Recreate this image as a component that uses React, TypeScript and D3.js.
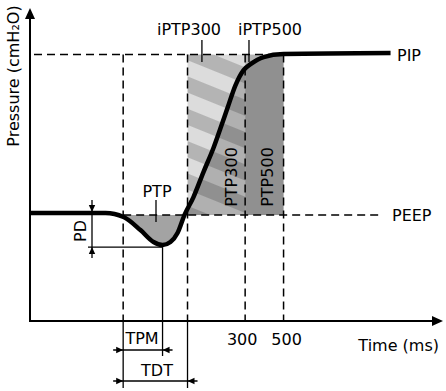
import React, { useEffect, useRef } from "react";
import * as d3 from "d3";

const W = 446;
const H = 391;

// pressure trace (ms, cmH2O)
const timeMs = [-818, -427, -333, -245, -177, -130, -89, -52, -16, 31, 83, 135, 172, 208, 250, 292, 328, 396, 500, 1057];
const pressure = [5.25, 5.25, 4.75, 3.13, 1.64, 1.26, 1.64, 2.76, 5.0, 7.24, 10.36, 13.35, 15.84, 18.33, 21.2, 23.07, 23.8, 24.69, 25.06, 25.19];

const PEEP = 5;
const PIP = 25;
const tOnset = -335;
const tMinimum = -130;
const tTrigger = 0;
const timeTicks = [300, 500];
const iptpTimes = [75, 320];
const iptpLabels = ["iPTP300", "iPTP500"];
const ptpLabels = ["PTP300", "PTP500"];

export default function App() {
  const ref = useRef<SVGSVGElement>(null);

  useEffect(() => {
    const svg = d3.select(ref.current);
    svg.selectAll("*").remove();

    const x = d3.scaleLinear().domain([-820, 1330]).range([30, 443]);
    const y = d3.scaleLinear().domain([-8.2, 30.8]).range([321, 8]);
    const data = timeMs.map((t, i) => ({ t, p: pressure[i] }));
    const font = "'DejaVu Sans', Verdana, sans-serif";
    const x0 = x.range()[0], x1 = x.range()[1];
    const yb = y.range()[0], yt = y.range()[1];

    const defs = svg.append("defs");
    const pat = defs.append("pattern").attr("id", "stripes")
      .attr("patternUnits", "userSpaceOnUse")
      .attr("width", 30).attr("height", 30)
      .attr("patternTransform", "translate(187,60) rotate(22)");
    pat.append("rect").attr("width", 30).attr("height", 30).attr("fill", "#dcdcdc");
    pat.append("rect").attr("y", 15).attr("width", 30).attr("height", 15).attr("fill", "#b4b4b4");

    defs.append("clipPath").attr("id", "clipPtp").append("rect")
      .attr("x", x(tOnset)).attr("y", y(PEEP))
      .attr("width", x(tTrigger) - x(tOnset)).attr("height", yb - y(PEEP));
    defs.append("clipPath").attr("id", "clipShade").append("rect")
      .attr("x", x(0)).attr("y", y(PIP))
      .attr("width", x(timeTicks[1]) - x(0)).attr("height", y(PEEP) - y(PIP));

    // shaded areas
    svg.append("rect").attr("x", x(0)).attr("y", y(PIP))
      .attr("width", x(timeTicks[0]) - x(0)).attr("height", y(PEEP) - y(PIP))
      .attr("fill", "url(#stripes)");
    svg.append("rect").attr("x", x(timeTicks[0])).attr("y", y(PIP))
      .attr("width", x(timeTicks[1]) - x(timeTicks[0])).attr("height", y(PEEP) - y(PIP))
      .attr("fill", "#b4b4b4");

    const area = d3.area<{ t: number; p: number }>()
      .x(d => x(d.t)).y0(y(PEEP)).y1(d => y(d.p))
      .curve(d3.curveMonotoneX);
    svg.append("path").datum(data).attr("d", area)
      .attr("clip-path", "url(#clipShade)")
      .attr("fill", "#000").attr("fill-opacity", 0.2);
    svg.append("path").datum(data).attr("d", area)
      .attr("clip-path", "url(#clipPtp)")
      .attr("fill", "#a3a3a3");

    // dashed guides
    const dashed = (xa: number, ya: number, xb: number, yb2: number) =>
      svg.append("line").attr("x1", xa).attr("y1", ya).attr("x2", xb).attr("y2", yb2)
        .attr("stroke", "#000").attr("stroke-width", 1.5).attr("stroke-dasharray", "8,5");
    dashed(x0 + 4, y(PIP), x(timeTicks[1]), y(PIP));
    dashed(x(tOnset), y(PEEP), 380, y(PEEP));
    [tOnset, tTrigger, ...timeTicks].forEach(t => dashed(x(t), y(PIP), x(t), yb));

    // thin solid lines
    const thin = (xa: number, ya: number, xb: number, yb2: number) =>
      svg.append("line").attr("x1", xa).attr("y1", ya).attr("x2", xb).attr("y2", yb2)
        .attr("stroke", "#000").attr("stroke-width", 1.3);
    const arrow = (xt: number, yt2: number, dir: string) => {
      const L = 7, Wd = 3.2;
      let pts: number[][];
      if (dir === "right") pts = [[xt, yt2], [xt - L, yt2 - Wd], [xt - L, yt2 + Wd]];
      else if (dir === "left") pts = [[xt, yt2], [xt + L, yt2 - Wd], [xt + L, yt2 + Wd]];
      else if (dir === "down") pts = [[xt, yt2], [xt - Wd, yt2 - L], [xt + Wd, yt2 - L]];
      else pts = [[xt, yt2], [xt - Wd, yt2 + L], [xt + Wd, yt2 + L]];
      svg.append("path").attr("d", "M" + pts.join("L") + "Z").attr("fill", "#000");
    };

    const yMin = y(d3.min(pressure) as number);
    // PD
    thin(92, 200, 92, 258);
    thin(88, yMin + 2, x(tMinimum), yMin + 2);
    arrow(92, y(pressure[0]) - 1, "down");
    arrow(92, yMin + 2, "up");
    // TPM / TDT
    thin(x(tMinimum), yMin + 2, x(tMinimum), 356);
    thin(x(tOnset), yb, x(tOnset), 388);
    thin(x(tTrigger), yb, x(tTrigger), 388);
    thin(x(tOnset) - 10, 350, x(tMinimum) + 10, 350);
    arrow(x(tOnset), 350, "right");
    arrow(x(tMinimum), 350, "left");
    thin(x(tOnset) - 10, 381, x(tTrigger) + 10, 381);
    arrow(x(tOnset), 381, "right");
    arrow(x(tTrigger), 381, "left");
    // pointers
    thin(156, 200, 156, 222);
    iptpTimes.forEach(t => thin(x(t), 40, x(t), 62));

    // pressure curve
    const line = d3.line<{ t: number; p: number }>()
      .x(d => x(d.t)).y(d => y(d.p)).curve(d3.curveMonotoneX);
    svg.append("path").datum(data).attr("d", line)
      .attr("fill", "none").attr("stroke", "#000").attr("stroke-width", 4.5);

    // axes
    svg.append("line").attr("x1", x0).attr("y1", yb + 1).attr("x2", x0).attr("y2", yt + 8)
      .attr("stroke", "#000").attr("stroke-width", 2);
    svg.append("line").attr("x1", x0 - 1).attr("y1", yb).attr("x2", x1 - 8).attr("y2", yb)
      .attr("stroke", "#000").attr("stroke-width", 2);
    svg.append("path").attr("d", `M${x0},${yt}L${x0 - 5},${yt + 11}L${x0 + 5},${yt + 11}Z`).attr("fill", "#000");
    svg.append("path").attr("d", `M${x1},${yb}L${x1 - 11},${yb - 5}L${x1 - 11},${yb + 5}Z`).attr("fill", "#000");

    // text
    const text = (s: string, tx: number, ty: number, anchor = "start", rot = 0) =>
      svg.append("text").attr("transform", `translate(${tx},${ty}) rotate(${rot})`)
        .attr("text-anchor", anchor).attr("font-family", font).attr("font-size", 16)
        .attr("fill", "#000").text(s);
    text("Pressure (cmH\u2082O)", 19, 76, "middle", -90);
    text("Time (ms)", 439, 351, "end");
    timeTicks.forEach((t, i) => text(String(t), x(t) + (i === 0 ? -3 : 3), 345, "middle"));
    text("PIP", 397, y(PIP) + 6);
    text("PEEP", 392, y(PEEP) + 6);
    text("PTP", 157, 197, "middle");
    text("PD", 86, 231, "middle", -90);
    text("TPM", 142, 344, "middle");
    text("TDT", 157, 376, "middle");
    text(iptpLabels[0], 189, 35, "middle");
    text(iptpLabels[1], 270, 35, "middle");
    text(ptpLabels[0], 237, 177, "middle", -90);
    text(ptpLabels[1], 273, 177, "middle", -90);
  }, []);

  return (
    <svg ref={ref} width={W} height={H}
      style={{ position: "absolute", left: 0, top: 0, background: "#fff" }} />
  );
}
